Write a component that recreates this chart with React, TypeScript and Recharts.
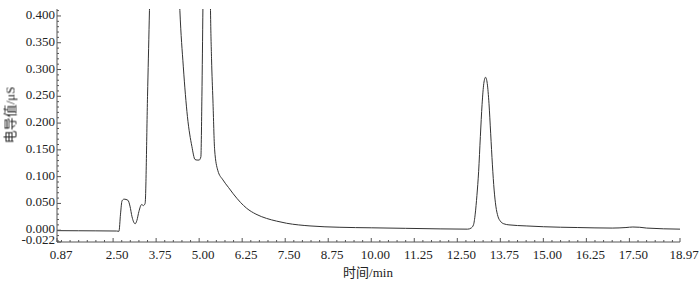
import { Line, LineChart, XAxis, YAxis } from "recharts";

// retention time (min) and conductivity (μS)
const time = [
  0.87, 1.5, 2.0, 2.6, 2.67, 2.715, 2.76, 2.82, 2.93, 2.99, 3.05, 3.14, 3.19,
  3.25, 3.33, 3.38, 3.43, 3.5, 3.6, 3.75, 4.0, 4.3, 4.44, 4.54, 4.66, 4.79,
  4.88, 4.94, 5.0, 5.05, 5.08, 5.11, 5.2, 5.3, 5.33, 5.36, 5.4, 5.45, 5.54,
  5.69, 5.85, 5.99, 6.2, 6.38, 6.65, 6.96, 7.25, 7.54, 8.22, 9.09, 10.0, 11.0,
  12.0, 12.8, 12.9, 12.97, 13.02, 13.07, 13.12, 13.17, 13.22, 13.27, 13.32,
  13.37, 13.42, 13.47, 13.52, 13.57, 13.62, 13.68, 13.75, 13.85, 14.0, 14.5,
  15.0, 16.0, 17.0, 17.4, 17.6, 17.8, 18.0, 18.97,
];
const signal = [
  -0.0008, -0.001, -0.0012, -0.0015, -0.002, 0.03, 0.055, 0.058, 0.056, 0.045,
  0.025, 0.012, 0.018, 0.035, 0.048, 0.046, 0.05, 0.25, 0.55, 1.2, 1.5, 0.7,
  0.41, 0.305, 0.212, 0.156, 0.132, 0.131, 0.131, 0.137, 0.25, 0.42, 1.0, 0.6,
  0.41, 0.32, 0.243, 0.15, 0.112, 0.094, 0.08, 0.068, 0.052, 0.041, 0.03,
  0.022, 0.017, 0.013, 0.008, 0.0055, 0.0045, 0.0035, 0.0025, 0.002, 0.004,
  0.01, 0.03, 0.065, 0.11, 0.175, 0.235, 0.274, 0.2855, 0.274, 0.237, 0.18,
  0.122, 0.075, 0.045, 0.026, 0.017, 0.012, 0.01, 0.008, 0.0065, 0.005, 0.004,
  0.005, 0.006, 0.0055, 0.004, 0.002,
];

const xMajor = [
  0.87, 2.5, 3.75, 5, 6.25, 7.5, 8.75, 10, 11.25, 12.5, 13.75, 15, 16.25, 17.5,
  18.97,
];
const yMajor = [-0.022, 0, 0.05, 0.1, 0.15, 0.2, 0.25, 0.3, 0.35, 0.4];

const data = time.map((t, i) => ({ t, v: signal[i] }));

const xMinor: number[] = [];
for (let k = 4; k <= 75; k++) {
  const v = k * 0.25;
  if (!xMajor.includes(v)) xMinor.push(v);
}
const yMinor: number[] = [];
for (let k = -2; k <= 41; k++) {
  if (k % 5 !== 0) yMinor.push(k / 100);
}
const xTicks = [...xMajor, ...xMinor].sort((a, b) => a - b);
const yTicks = [...yMajor, ...yMinor].sort((a, b) => a - b);

const axisColor = "#555";
const font = "Times New Roman, Liberation Serif, Noto Sans CJK SC, serif";

function XTick({ x, y, payload }: any) {
  const major = xMajor.includes(payload.value);
  return (
    <g>
      <line x1={x} x2={x} y1={y} y2={y - (major ? 4 : 2)} stroke={axisColor} />
      {major && (
        <text
          x={x + 4}
          y={y + 17}
          textAnchor="middle"
          fontSize={13}
          fontFamily={font}
          fill="#222"
        >
          {payload.value.toFixed(2)}
        </text>
      )}
    </g>
  );
}

function YTick({ x, y, payload }: any) {
  const major = yMajor.includes(payload.value);
  const low = payload.value < 0;
  return (
    <g>
      <line x1={x} x2={x + (major ? 4 : 2)} y1={y} y2={y} stroke={axisColor} />
      {major && (
        <text
          x={x - 2}
          y={y + (low ? 2 : 3)}
          textAnchor="end"
          fontSize={13}
          fontFamily={font}
          fill="#222"
        >
          {payload.value.toFixed(3)}
        </text>
      )}
    </g>
  );
}

export default function App() {
  return (
    <div
      style={{
        position: "fixed",
        left: 0,
        top: 0,
        width: 700,
        height: 281,
        background: "#fff",
        fontFamily: font,
      }}
    >
      <LineChart
        width={700}
        height={281}
        data={data}
        margin={{ top: 9, right: 20, left: 0, bottom: 0 }}
      >
        <XAxis
          dataKey="t"
          type="number"
          domain={[0.87, 18.97]}
          allowDataOverflow
          ticks={xTicks}
          interval={0}
          tickSize={0}
          tickMargin={0}
          tickLine={false}
          height={39}
          stroke={axisColor}
          tick={<XTick />}
        />
        <YAxis
          type="number"
          domain={[-0.022, 0.413]}
          allowDataOverflow
          ticks={yTicks}
          interval={0}
          tickSize={0}
          tickMargin={0}
          tickLine={false}
          width={57}
          stroke={axisColor}
          tick={<YTick />}
        />
        <Line
          dataKey="v"
          type="monotone"
          stroke="#333"
          strokeWidth={1}
          dot={false}
          isAnimationActive={false}
        />
      </LineChart>
      <div
        style={{
          position: "absolute",
          left: 9,
          top: 115,
          transform: "translate(-50%, -50%) rotate(-90deg)",
          whiteSpace: "nowrap",
          fontSize: 13,
          color: "#222",
        }}
      >
        电导值/μS
      </div>
      <div
        style={{
          position: "absolute",
          left: 368,
          top: 271,
          transform: "translate(-50%, -50%)",
          whiteSpace: "nowrap",
          fontSize: 13,
          color: "#222",
        }}
      >
        时间/min
      </div>
    </div>
  );
}
